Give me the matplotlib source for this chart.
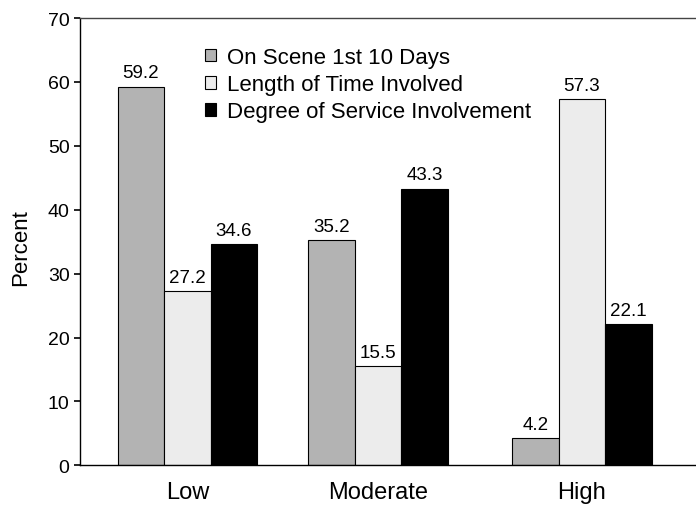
import matplotlib
matplotlib.use("Agg")
import matplotlib.pyplot as plt
import numpy as np

plt.rcParams['font.family'] = ['Liberation Sans', 'DejaVu Sans']

categories = ["Low", "Moderate", "High"]
series_names = ["On Scene 1st 10 Days", "Length of Time Involved", "Degree of Service Involvement"]
on_scene = [59.2, 35.2, 4.2]
length_time = [27.2, 15.5, 57.3]
degree_service = [34.6, 43.3, 22.1]
yticks = [0, 10, 20, 30, 40, 50, 60, 70]

colors = ["#b3b3b3", "#ececec", "#000000"]
group_pos = np.array([0.0, 1.0, 2.069])
bw = 0.244

W, H = 696, 506
fig = plt.figure(figsize=(W / 100, H / 100), dpi=100)
ax = fig.add_axes([80 / W, (H - 466.3) / H, 1 - 80 / W, (466.3 - 19) / H])

for i, (vals, name, c) in enumerate(zip([on_scene, length_time, degree_service], series_names, colors)):
    xs = group_pos + (i - 1) * bw
    ax.bar(xs, vals, width=bw, color=c, edgecolor="black", linewidth=0.8, label=name, zorder=2)
    for x, v in zip(xs, vals):
        ax.annotate(f"{v:.1f}", (x, v), xytext=(0, 4), textcoords="offset points",
                    ha="center", va="bottom", fontsize=13.5)

ax.set_xlim(-0.563, 2.668)
ax.set_ylim(0, 70)
ax.set_yticks(yticks)
ax.set_xticks(group_pos)
ax.set_xticklabels(categories, fontsize=17)
ax.tick_params(axis="x", length=0, pad=11.5)
ax.tick_params(axis="y", length=4.5, width=1.2, labelsize=14, pad=3)
ax.set_ylabel("Percent", fontsize=16)
ax.yaxis.set_label_coords(-0.079, 0.49)

ax.spines["right"].set_visible(False)
ax.spines["top"].set_color("#444444")
ax.spines["top"].set_linewidth(1.0)
ax.spines["left"].set_linewidth(1.0)
ax.spines["bottom"].set_linewidth(1.0)

leg = ax.legend(loc="upper left", bbox_to_anchor=(205 / W, 1 - 48 / H), bbox_transform=fig.transFigure,
                frameon=False, fontsize=16, borderpad=0, borderaxespad=0,
                handlelength=0.5, handleheight=0.5, handletextpad=0.5, labelspacing=0.28)

fig.savefig("out.png", dpi=100)
